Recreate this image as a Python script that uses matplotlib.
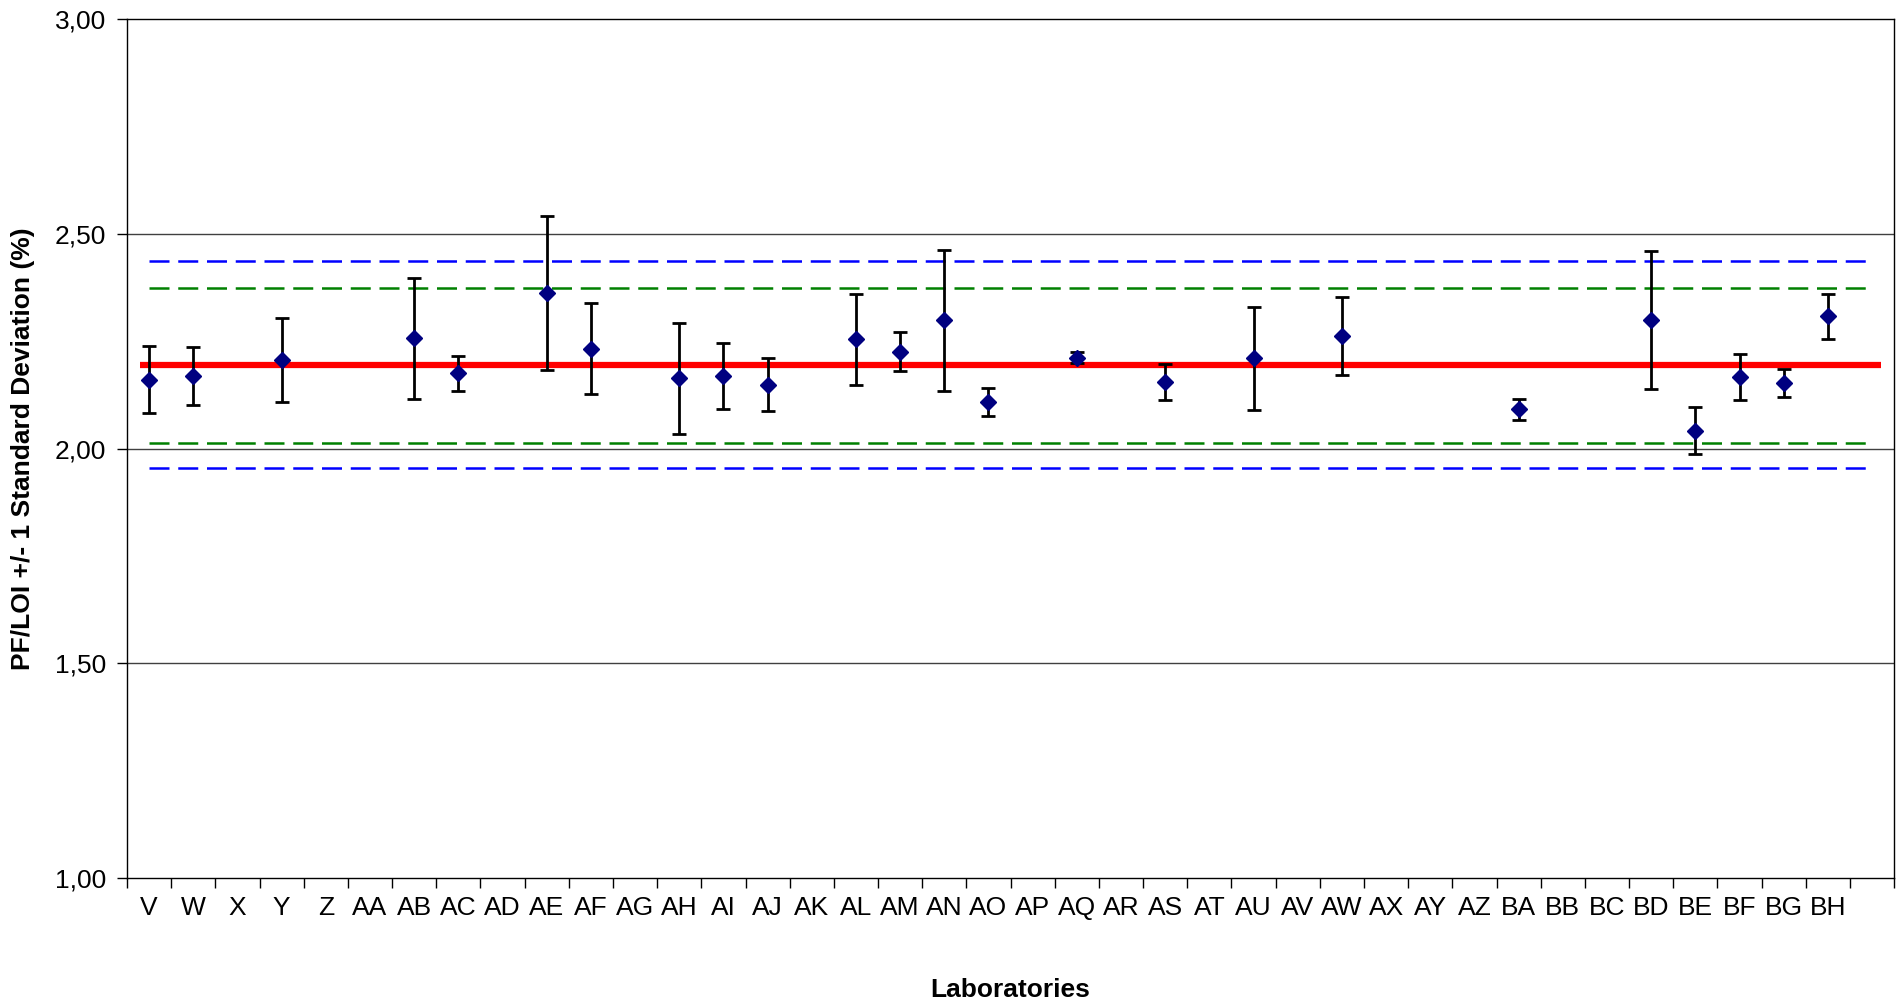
import matplotlib.pyplot as plt
import numpy as np

# --- data ---
labs = ['V', 'W', 'X', 'Y', 'Z', 'AA', 'AB', 'AC', 'AD', 'AE', 'AF', 'AG', 'AH', 'AI',
        'AJ', 'AK', 'AL', 'AM', 'AN', 'AO', 'AP', 'AQ', 'AR', 'AS', 'AT', 'AU', 'AV',
        'AW', 'AX', 'AY', 'AZ', 'BA', 'BB', 'BC', 'BD', 'BE', 'BF', 'BG', 'BH', '']

# mean value per lab (nan = no result)
nan = np.nan
means = [2.160, 2.169, nan, 2.206, nan, nan, 2.257, 2.175, nan, 2.362, 2.233, nan, 2.164,
         2.169, 2.149, nan, 2.254, 2.226, 2.299, 2.109, nan, 2.212, nan, 2.154, nan, 2.210,
         nan, 2.263, nan, nan, nan, 2.091, nan, nan, 2.299, 2.042, 2.167, 2.153, 2.308, nan]
stdevs = [0.078, 0.067, nan, 0.097, nan, nan, 0.141, 0.040, nan, 0.179, 0.106, nan, 0.129,
          0.076, 0.061, nan, 0.107, 0.046, 0.164, 0.033, nan, 0.012, nan, 0.042, nan, 0.120,
          nan, 0.091, nan, nan, nan, 0.025, nan, nan, 0.160, 0.055, 0.053, 0.033, 0.052, nan]

grand_mean = 2.195
limit_2s = [2.014, 2.375]   # green
limit_3s = [1.954, 2.436]   # blue

x = np.arange(len(labs))
means = np.array(means)
stdevs = np.array(stdevs)

plt.rcParams['font.family'] = ['Liberation Sans', 'DejaVu Sans']

fig, ax = plt.subplots(figsize=(18.98, 10.08), dpi=100)
fig.subplots_adjust(left=0.0669, right=0.998, bottom=0.129, top=0.981)

# grid + limit lines
for gy in [1.5, 2.0, 2.5]:
    ax.axhline(gy, color='#404040', linewidth=1.0, zorder=1)

x0, x1 = x[0], x[-1]
for v in limit_3s:
    ax.hlines(v, x0, x1, colors='#0000FF', linewidth=1.8, linestyles=(0, (8, 3.5)), zorder=2)
for v in limit_2s:
    ax.hlines(v, x0, x1, colors='#008000', linewidth=1.8, linestyles=(0, (8, 3.5)), zorder=2)
ax.hlines(grand_mean, x0 - 0.2, x1 + 0.2, colors='#FF0000', linewidth=4.5, zorder=3)

# lab results
ax.errorbar(x, means, yerr=stdevs, fmt='D', color='#000080', markersize=8,
            ecolor='black', elinewidth=2, capsize=5, capthick=2, zorder=4)

ax.set_ylim(1.0, 3.0)
ax.set_xlim(-0.5, len(labs) - 0.5)
ax.set_yticks([1.0, 1.5, 2.0, 2.5, 3.0])
ax.set_yticklabels(['1,00', '1,50', '2,00', '2,50', '3,00'], fontsize=19)
ax.set_xticks(x)
ax.set_xticklabels(labs, fontsize=19)
ax.tick_params(axis='x', which='major', length=0, pad=13)
ax.set_xticks(np.arange(len(labs) + 1) - 0.5, minor=True)
ax.tick_params(axis='x', which='minor', length=7, width=1, direction='out')
ax.tick_params(axis='y', length=7, width=1, direction='out', pad=8)

for s in ax.spines.values():
    s.set_linewidth(1.0)
    s.set_color('black')

ax.set_xlabel('Laboratories', fontsize=19, fontweight='bold', labelpad=42)
ax.set_ylabel('PF/LOI +/- 1 Standard Deviation (%)', fontsize=19, fontweight='bold', labelpad=14)

fig.savefig('out.png', dpi=100)
